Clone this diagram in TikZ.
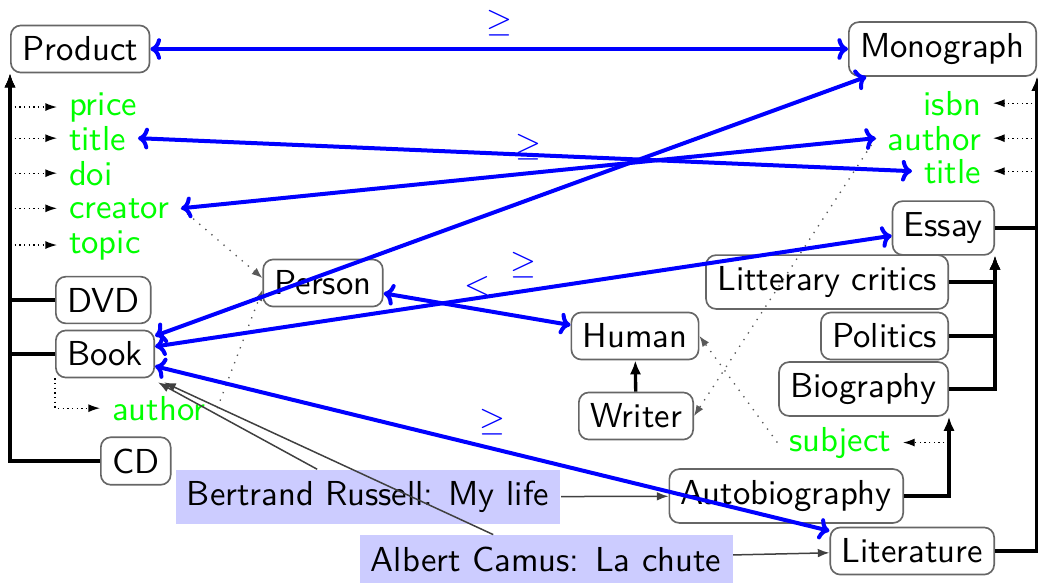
\documentclass[tikz,border=0pt]{standalone}
\usetikzlibrary{arrows.meta,calc}
\begin{document}
\begin{tikzpicture}[x=0.3pt,y=-0.3pt,
  font=\sffamily\fontsize{10.4}{12.5}\selectfont,
  box/.style={draw=black!60, line width=0.5pt, rounded corners=3pt, inner sep=3.4pt},
  attr/.style={text=green, inner sep=3.4pt},
  inst/.style={fill=blue!20, inner sep=3.4pt},
  treeedge/.style={draw=black, line width=1pt, -{Latex[length=4.2pt,width=3.4pt]}},
  attrarrow/.style={draw=black, line width=0.4pt, densely dotted, -{Latex[length=3.5pt,width=2.4pt]}},
  refarrow/.style={draw=black!65, line width=0.4pt, dotted, -{Latex[length=3.2pt,width=2.4pt]}},
  eqarrow/.style={draw=blue, line width=1.2pt, {To[length=3.2pt,width=6.5pt]}-{To[length=3.2pt,width=6.5pt]}},
  lbl/.style={above, text=blue, inner sep=3.4pt},
  thinarrow/.style={draw=black!75, line width=0.45pt, -{Latex[length=3.5pt,width=2.6pt]}}
]
\useasboundingbox (0,0) rectangle (1038,584);

% class nodes
\node[box, anchor=west] (product) at (10,49) {Product};
\node[box, anchor=east] (mono) at (1037,49) {Monograph};
\node[box, anchor=west] (dvd) at (55,300) {DVD};
\node[box, anchor=west] (book) at (55,354) {Book};
\node[box, anchor=west] (cd) at (100,461) {CD};
\node[box] (person) at (323,283) {Person};
\node[box] (human) at (635,336) {Human};
\node[box] (writer) at (636,416) {Writer};
\node[box, anchor=east] (essay) at (995,228) {Essay};
\node[box, anchor=east] (critics) at (949,282) {Litterary critics};
\node[box, anchor=east] (politics) at (949,336) {Politics};
\node[box, anchor=east] (bio) at (949,389) {Biography};
\node[box, anchor=east] (autobio) at (904,496) {Autobiography};
\node[box, anchor=east] (lit) at (995,551) {Literature};

% instances
\node[inst] (russell) at (368,497) {Bertrand Russell: My life};
\node[inst] (camus) at (546,559) {Albert Camus: La chute};

% attributes
\node[attr, anchor=base west] (price) at (57,115) {price};
\node[attr, anchor=base west] (title) at (57,150) {title};
\node[attr, anchor=base west] (doi) at (57,185) {doi};
\node[attr, anchor=base west] (creator) at (57,218) {creator};
\node[attr, anchor=base west] (topic) at (57,253) {topic};
\node[attr, anchor=base east] (isbn) at (993,115) {isbn};
\node[attr, anchor=base east] (rauthor) at (993,150) {author};
\node[attr, anchor=base east] (rtitle) at (993,183) {title};
\node[attr, anchor=base west] (bauthor) at (100,420) {author};
\node[attr, anchor=base east] (subject) at (903,451) {subject};

% subclass edges
\foreach \n in {dvd,book,cd} \draw[treeedge] (\n.west) -| (product.south west);
\foreach \n in {essay,lit} \draw[treeedge] (\n.east) -| (mono.south east);
\foreach \n in {critics,politics,bio} \draw[treeedge] (\n.east) -| (essay.south east);
\draw[treeedge] (autobio.east) -| (bio.south east);
\draw[treeedge] (writer) -- (human);

% attribute edges
\foreach \n in {price,title,doi,creator,topic} \draw[attrarrow] (product.south west |- \n.west) -- (\n.west);
\foreach \n in {isbn,rauthor,rtitle} \draw[attrarrow] (mono.south east |- \n.east) -- (\n.east);
\draw[attrarrow] (book.south west) |- (bauthor.west);
\draw[attrarrow] (bio.south east |- subject.east) -- (subject.east);

% range edges
\draw[refarrow] (creator.east) -- ($(person.west)+(0,-5)$);
\draw[refarrow] (bauthor.east) -- ($(person.west)+(0,7)$);
\draw[refarrow] (rauthor.west) -- (writer.east);
\draw[refarrow] (subject.west) -- (human.east);

% alignments
\draw[eqarrow] (product) -- node[lbl]{$\geq$} (mono);
\draw[eqarrow] (title.east) -- (rtitle.west);
\draw[eqarrow] (creator.east) -- node[lbl]{$\geq$} (rauthor.west);
\draw[eqarrow] (book) -- (mono);
\draw[eqarrow] (book) -- node[lbl]{$\geq$} (essay);
\draw[eqarrow] (book) -- node[lbl]{$\geq$} (lit);
\draw[eqarrow] (person) -- node[lbl]{$<$} (human);

% instance edges
\draw[thinarrow] (russell) -- ($(book.south east)+(3,4)$);
\draw[thinarrow] (camus) -- ($(book.south east)+(9,4)$);
\draw[thinarrow] (russell) -- (autobio);
\draw[thinarrow] (camus) -- (lit);
\end{tikzpicture}
\end{document}
